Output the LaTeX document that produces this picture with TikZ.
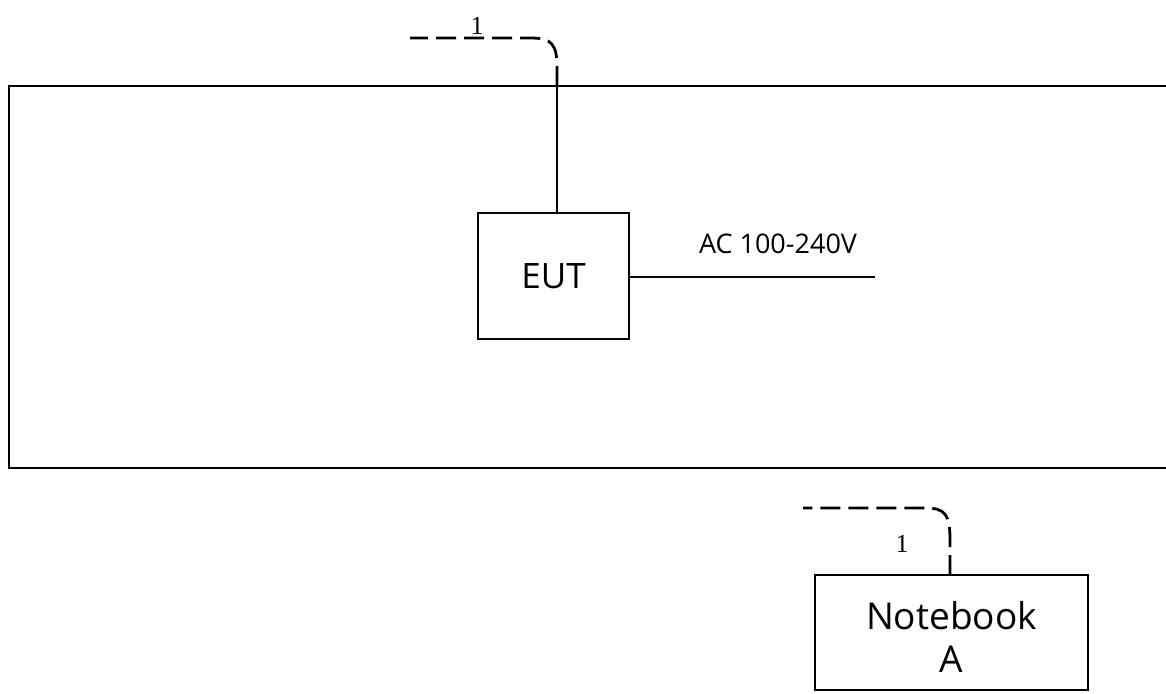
\documentclass[tikz,border=0pt]{standalone}
\usepackage{fontspec}
\setmainfont{Open Sans}
\newfontfamily\serifnum{Liberation Serif}
\begin{document}
\begin{tikzpicture}[x=1pt,y=-1pt,
  box/.style={draw, line width=1.4pt, rectangle, inner sep=0pt, align=center},
  solidline/.style={line width=1.4pt},
  cable/.style={line width=2.8pt, dash pattern=on 20pt off 8pt},
  lbl/.style={inner sep=0pt, font=\serifnum\fontsize{26}{26}\selectfont}]
\useasboundingbox (0,0) rectangle (1166,693);
\fill[white] (0,0) rectangle (1166,693);
% room
\draw[solidline] (1175,86) -- (9,86) -- (9,468) -- (1175,468);
% EUT
\node[box, minimum width=151pt, minimum height=126pt] (eut) at (553.5,276) {};
\node[inner sep=0pt, font=\fontsize{35}{36}\selectfont] (eutlbl) at (eut.center) {EUT};
\coordinate (eutTop) at (557,213);
\coordinate (wallTop) at (557,86);
\coordinate (ac) at (875,277);
\coordinate (cA) at (410,38);
\draw[solidline] (eutTop) -- (wallTop);
\draw[cable] (wallTop) -- (557,68) .. controls (557,44) and (552,38) .. (530,38) -- (cA);
\node[lbl] (l1) at (477,26) {1};
\draw[solidline] (eut.east |- ac) -- (ac);
\node[inner sep=0pt, font=\fontsize{27}{28}\selectfont] (aclbl) at (778,244) {AC 100-240V};
% Notebook
\node[box, minimum width=273pt, minimum height=115pt] (nb) at (951.5,632.5) {};
\node[inner sep=0pt, align=center, font=\fontsize{37}{43}\selectfont] (nblbl) at (951.5,637) {Notebook\\A};
\coordinate (nbTop) at (950,575);
\coordinate (cB) at (803,508);
\draw[cable] (nbTop) -- (950,540) .. controls (950,514) and (945,508) .. (925,508) -- (cB);
\node[lbl] (l2) at (902,544) {1};
\end{tikzpicture}
\end{document}
